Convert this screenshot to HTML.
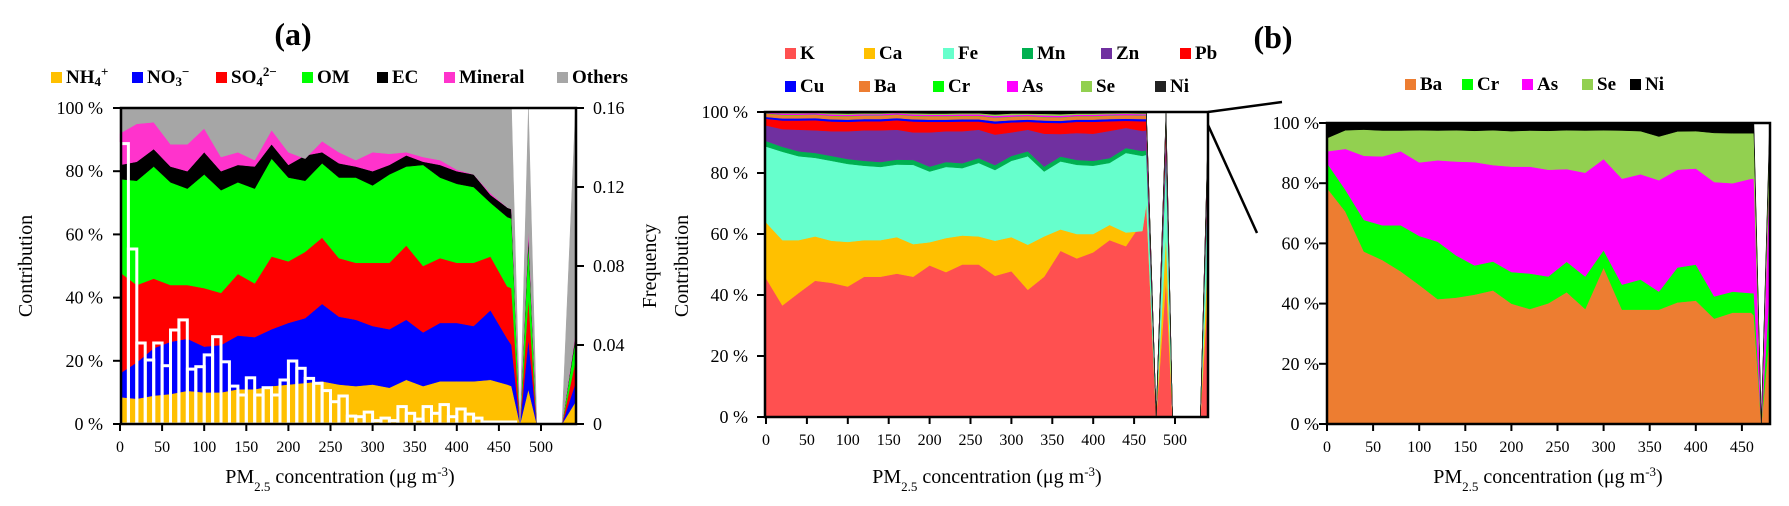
<!DOCTYPE html>
<html><head><meta charset="utf-8"><style>
html,body{margin:0;padding:0;background:#fff;}
svg{display:block;}
svg text, svg tspan{font-family:"Liberation Serif","DejaVu Serif",serif;}
.tk{font-size:18px;fill:#000;}
.xt{font-size:16px;fill:#000;}
.lg{font-size:19px;font-weight:bold;fill:#000;}
.at{font-size:20px;fill:#000;}
</style></head><body>
<svg id="chart" width="1789" height="506" viewBox="0 0 1789 506" xmlns="http://www.w3.org/2000/svg" font-family="Liberation Serif, serif">
<g id="ga"></g>
<g id="gm"></g>
<g id="gr"></g>
<g id="ann">
 <text x="293" y="45" text-anchor="middle" style="font-size:32px;font-weight:bold">(a)</text>
 <text x="1273" y="48" text-anchor="middle" style="font-size:32px;font-weight:bold">(b)</text>
 <text class="at" transform="translate(32,266) rotate(-90)" text-anchor="middle">Contribution</text>
 <text class="at" transform="translate(656,266) rotate(-90)" text-anchor="middle">Frequency</text>
 <text class="at" transform="translate(688,266) rotate(-90)" text-anchor="middle">Contribution</text>
 <text class="at" x="340" y="483" text-anchor="middle">PM<tspan baseline-shift="sub" font-size="13">2.5</tspan> concentration (μg m<tspan baseline-shift="super" font-size="13">-3</tspan>)</text>
 <text class="at" x="987" y="483" text-anchor="middle">PM<tspan baseline-shift="sub" font-size="13">2.5</tspan> concentration (μg m<tspan baseline-shift="super" font-size="13">-3</tspan>)</text>
 <text class="at" x="1548" y="483" text-anchor="middle">PM<tspan baseline-shift="sub" font-size="13">2.5</tspan> concentration (μg m<tspan baseline-shift="super" font-size="13">-3</tspan>)</text>
 <line x1="1208" y1="112" x2="1282" y2="102" stroke="#000" stroke-width="2.5"/>
 <line x1="1208" y1="125" x2="1257" y2="233" stroke="#000" stroke-width="2.5"/>
</g>
<g id="legends"></g>
</svg>
<script>
// ---------- Panel (a) data (cumulative tops, %) ----------
const aX = [0,20,40,60,80,100,120,140,160,180,200,220,240,260,280,300,320,340,360,380,400,420,440,460,465,475,485,495,525,541];
const aNH4 = [8.5,8,9,9.5,10.5,10,10,11,11,12,12.5,13,13.5,12.5,12,12.5,11.5,14,12,13.5,13.5,13.5,14,12.5,12,0,11,0,0,7];
const aNO3 = [16,19.5,24,26,27,24.5,25,28,27.5,30,32,33.5,38,34,33,31,30,33,29,32,32,31,36,27,25,0,27,0,0,13];
const aSO4 = [48,44,46,44,44,43,41.5,47.5,44.5,53,51.5,54.5,59,52.5,51,51,51,56.5,50,52.5,51,51,53,43.5,43,0,40,0,0,20];
const aOM = [77.5,77,81.5,76.5,74.5,79,74,76.5,74.5,84,78,77,82.5,78,78,75.5,79,81.5,82,78,76,75,70,65.5,65,0,58,0,0,27];
const aEC = [82,83,87,81.5,80,86,80,82,81.5,88.5,82,85,86,82.5,81.5,80,82,85,83,82,80,79,72.5,68.5,68,0,60,0,0,28];
const aMineral = [92,95,95.5,88.5,88.5,93.5,84.5,86,83.5,93,86,84,89.5,86,83.5,86,85.5,86,84.5,83.5,80.5,79,73,68.5,68,0,62,0,0,29];
const aOthers = [100,100,100,100,100,100,100,100,100,100,100,100,100,100,100,100,100,100,100,100,100,100,100,100,100,0,100,0,0,100];
const freqBinWidth = 10;
const freqValues = [0.142,0.0886,0.041,0.0324,0.041,0.0295,0.0476,0.0527,0.0278,0.029,0.035,0.0442,0.0315,0.0192,0.0147,0.0234,0.0147,0.0184,0.0147,0.0223,0.0319,0.0282,0.0231,0.0206,0.0169,0.0113,0.0142,0.004,0.0037,0.006,0.0017,0.003,0.0017,0.0088,0.0054,0.0025,0.0088,0.0054,0.0098,0.0037,0.0076,0.005,0.003,0.001,0.001,0.001,0.001];
const aYTicks = [0,20,40,60,80,100];
const aFreqTicks = [0,0.04,0.08,0.12,0.16];
const aFreqLabels = ["0","0.04","0.08","0.12","0.16"];
const aXTicks = [0,50,100,150,200,250,300,350,400,450,500];

// ---------- Middle panel data (cumulative tops, %) ----------
const mX = [0,20,40,60,80,100,120,140,160,180,200,220,240,260,280,300,320,340,360,380,400,420,440,460,465,477,489,497,531,541];
const mK = [45.5,36.6,40.7,44.7,44,42.8,46,46,47,46,49.7,47.5,50,50,46.3,47.8,41.7,46,54.5,52,54,58,56,64,70,0,45,0,0,45];
const mCa = [63.8,58,58,59.2,57.8,57.4,58,58,59,56.7,57.3,58.7,59.5,59.2,57.8,59,56.5,59.2,61.5,60,60,63,60.5,61,70,0,60,0,0,60];
const mFe = [88.7,87,85.5,85,84,83,82.4,82,82.8,82.7,80.5,82,81.6,83.3,81,84,85.5,80.5,83.8,82.7,82.4,83.3,86.6,85.6,86,0,85,0,0,85];
const mMn = [90.5,88.6,87.1,86.6,85.6,84.6,84,83.6,84.4,84.3,82.1,83.6,83.2,84.9,82.6,85.6,87.1,82.1,85.4,84.3,84,84.9,88.2,87.2,87.5,0,86.5,0,0,86.5];
const mZn = [95.6,94.4,94.2,94,93.7,93.7,94,94,94.2,93.3,93.3,93.7,93.7,94.2,92.6,93.3,94.2,92.9,92.8,93.1,92.9,93.8,94.8,93.8,94,0,93,0,0,93];
const mPb = [97.8,97.2,97.2,97.3,96.9,96.8,97,97,97.3,96.9,96.8,96.8,96.9,96.9,96.2,96.6,96.8,96.5,96.4,96.8,96.8,97,97.1,97,97,0,96.5,0,0,96.5];
const mCu = [98.4,97.9,97.9,98,97.6,97.5,97.7,97.7,98,97.6,97.5,97.5,97.6,97.6,97,97.3,97.5,97.2,97.1,97.5,97.5,97.7,97.8,97.7,97.7,0,97.2,0,0,97.2];
const mBa = [99.5,99,99,99.1,98.7,98.6,98.8,98.8,99.1,98.7,98.6,98.6,98.7,98.7,98.1,98.4,98.6,98.3,98.2,98.6,98.6,98.8,98.9,98.8,98.8,0,98.3,0,0,98.3];
const mCr = [99.6,99.1,99.1,99.2,98.8,98.7,98.9,98.9,99.2,98.8,98.7,98.7,98.8,98.8,98.2,98.5,98.7,98.4,98.3,98.7,98.7,98.9,99,98.9,98.9,0,98.4,0,0,98.4];
const mAs = [99.8,99.5,99.5,99.6,99.2,99.1,99.3,99.3,99.6,99.2,99.1,99.1,99.2,99.2,98.7,99,99.1,98.9,98.8,99.1,99.1,99.3,99.4,99.3,99.3,0,98.9,0,0,98.9];
const mSe = [99.9,99.8,99.8,99.8,99.6,99.5,99.6,99.6,99.8,99.6,99.5,99.5,99.6,99.6,99.2,99.5,99.5,99.4,99.3,99.5,99.5,99.6,99.7,99.6,99.6,0,99.4,0,0,99.4];
const mNi = [100,100,100,100,100,100,100,100,100,100,100,100,100,100,100,100,100,100,100,100,100,100,100,100,100,0,100,0,0,100];
const mYTicks = [0,20,40,60,80,100];
const mXTicks = [0,50,100,150,200,250,300,350,400,450,500];

// ---------- Panel (b) data (cumulative tops, %) ----------
const rX = [0,20,40,60,80,100,120,140,160,180,200,220,240,260,280,300,320,340,360,380,400,420,440,460,463,471,480];
const rBa = [78.4,70.6,57.3,54.5,50.7,46.2,41.5,42,43,44.4,40,38.2,40.1,43.8,38.2,52,38,38,38,40.4,41,35,37,37,36,0,30];
const rCr = [86.7,77.8,67.8,66,66,62.5,60.6,56,52.7,54,50.5,50,49,53.9,49,57.7,46.3,48,44,52,53,42.4,44,43.5,43.5,0,45];
const rAs = [90.6,91.4,89.1,88.9,90.6,86.9,87.6,87.2,87,86,85.5,85.5,84.5,84.7,83.5,88,81.5,83,81,84.5,84.9,80.4,80,81.5,81.5,0,85];
const rSe = [95,97.6,97.8,97.5,97.5,97.6,97.5,97.6,97.4,97.6,97.3,97.5,97.4,97.6,97.5,97.6,97.5,97.3,95.5,97.2,97.3,96.7,96.6,96.6,96.6,0,97];
const rNi = [100,100,100,100,100,100,100,100,100,100,100,100,100,100,100,100,100,100,100,100,100,100,100,100,100,0,100];
const rYTicks = [0,20,40,60,80,100];
const rXTicks = [0,50,100,150,200,250,300,350,400,450];

const NS = "http://www.w3.org/2000/svg";
function mk(tag, attrs, parent){const e=document.createElementNS(NS,tag);for(const k in attrs)e.setAttribute(k,attrs[k]);parent.appendChild(e);return e;}

const xa=v=>120+0.842*v, ya=p=>424-3.16*p, yf=f=>424-f/0.16*316;
const xm=v=>766+0.818*v, ym=p=>417-3.05*p;
const xr=v=>1327+0.922*v, yr=p=>424-3.01*p;

function stack(g, xs, tops, colors, names, xf, yfn){
  for(let i=0;i<tops.length;i++){
    const up=tops[i], lo=i?tops[i-1]:xs.map(()=>0);
    let pts=[];
    for(let j=0;j<xs.length;j++)pts.push(xf(xs[j]).toFixed(1)+","+yfn(up[j]).toFixed(1));
    for(let j=xs.length-1;j>=0;j--)pts.push(xf(xs[j]).toFixed(1)+","+yfn(lo[j]).toFixed(1));
    const p=mk("polygon",{points:pts.join(" "),fill:colors[i],stroke:colors[i],"stroke-width":"0.5"},g);
    
    
  }
}
function axes(g, x0,x1,y0,y1, xf, yfn, yT, xT, labX){
  const box=mk("rect",{x:x0,y:y1,width:x1-x0,height:y0-y1,fill:"none",stroke:"#000","stroke-width":"2.5"},g);
  
  
  yT.forEach(t=>{
    const y=yfn(t);
    mk("line",{x1:x0-8,y1:y,x2:x0,y2:y,stroke:"#000","stroke-width":"2"},g);
    const tx=mk("text",{x:labX,y:y+6,"text-anchor":"end",class:"tk"},g);
    tx.textContent=t+" %";
    
    
  });
  xT.forEach(t=>{
    const x=xf(t);
    mk("line",{x1:x,y1:y0,x2:x,y2:y0+7,stroke:"#000","stroke-width":"2"},g);
    const tx=mk("text",{x:x,y:y0+28,"text-anchor":"middle",class:"xt"},g);
    tx.textContent=String(t);
    
    
  });
}

const ga=document.getElementById("ga");
stack(ga,aX,[aNH4,aNO3,aSO4,aOM,aEC,aMineral,aOthers],["#FFC000","#0000FF","#FF0000","#00FF00","#000000","#FF33CC","#A6A6A6"],["nh4","no3","so4","om","ec","mineral","others"],xa,ya);
freqValues.forEach((f,i)=>{
  const x=xa(i*freqBinWidth), w=xa((i+1)*freqBinWidth)-x;
  const r=mk("rect",{x:x.toFixed(1),y:yf(f).toFixed(1),width:w.toFixed(1),height:(424-yf(f)).toFixed(1),fill:"none",stroke:"#fff","stroke-width":"3"},ga);
  
  
});
axes(ga,121,576,424,108,xa,ya,aYTicks,aXTicks,103);
aFreqTicks.forEach((t,i)=>{
  const y=yf(t);
  mk("line",{x1:576,y1:y,x2:584,y2:y,stroke:"#000","stroke-width":"2"},ga);
  const tx=mk("text",{x:593,y:y+6,class:"tk"},ga);
  tx.textContent=aFreqLabels[i];
  
  
});

const gm=document.getElementById("gm");
stack(gm,mX,[mK,mCa,mFe,mMn,mZn,mPb,mCu,mBa,mCr,mAs,mSe,mNi],["#FF5050","#FFC000","#66FFCC","#00B050","#7030A0","#FF0000","#0000FF","#ED7D31","#00FF00","#FF00FF","#92D050","#000000"],["k","ca","fe","mn","zn","pb","cu","ba","cr","as","se","ni"],xm,ym);
axes(gm,765,1208,417,112,xm,ym,mYTicks,mXTicks,748);

const gr=document.getElementById("gr");
stack(gr,rX,[rBa,rCr,rAs,rSe,rNi],["#ED7D31","#00FF00","#FF00FF","#92D050","#000000"],["ba","cr","as","se","ni"],xr,yr);
axes(gr,1327,1770,424,123,xr,yr,rYTicks,rXTicks,1319);

const lg=document.getElementById("legends");
function legend(items){
  items.forEach(it=>{
    const g=mk("g",{},lg);
    
    
    mk("rect",{x:it.x,y:it.y-11,width:11,height:11,fill:it.c},g);
    const t=mk("text",{x:it.x+15,y:it.y,class:"lg"},g);
    t.innerHTML=it.t;
  });
}
legend([
 {id:"nh4",x:51,y:83,c:"#FFC000",t:'NH<tspan font-size="13" dy="3">4</tspan><tspan font-size="13" dy="-10">+</tspan>'},
 {id:"no3",x:132,y:83,c:"#0000FF",t:'NO<tspan font-size="13" dy="3">3</tspan><tspan font-size="13" dy="-10">−</tspan>'},
 {id:"so4",x:216,y:83,c:"#FF0000",t:'SO<tspan font-size="13" dy="3">4</tspan><tspan font-size="13" dy="-10">2−</tspan>'},
 {id:"om",x:302,y:83,c:"#00FF00",t:'OM'},
 {id:"ec",x:377,y:83,c:"#000000",t:'EC'},
 {id:"mineral",x:444,y:83,c:"#FF33CC",t:'Mineral'},
 {id:"others",x:557,y:83,c:"#A6A6A6",t:'Others'}
]);
const r1=[["k","K","#FF5050"],["ca","Ca","#FFC000"],["fe","Fe","#66FFCC"],["mn","Mn","#00B050"],["zn","Zn","#7030A0"],["pb","Pb","#FF0000"]];
const r2=[["cu","Cu","#0000FF"],["ba","Ba","#ED7D31"],["cr","Cr","#00FF00"],["as","As","#FF00FF"],["se","Se","#92D050"],["ni","Ni","#222222"]];
legend(r1.map((d,i)=>({id:"m-"+d[0],x:785+i*79,y:59,c:d[2],t:d[1]})));
legend(r2.map((d,i)=>({id:"m-"+d[0],x:785+i*74,y:92,c:d[2],t:d[1]})));
const r3=[["ba","Ba","#ED7D31",1405],["cr","Cr","#00FF00",1462],["as","As","#FF00FF",1522],["se","Se","#92D050",1582],["ni","Ni","#000000",1630]];
legend(r3.map(d=>({id:"b-"+d[0],x:d[3],y:90,c:d[2],t:d[1]})));
</script>
</body></html>
